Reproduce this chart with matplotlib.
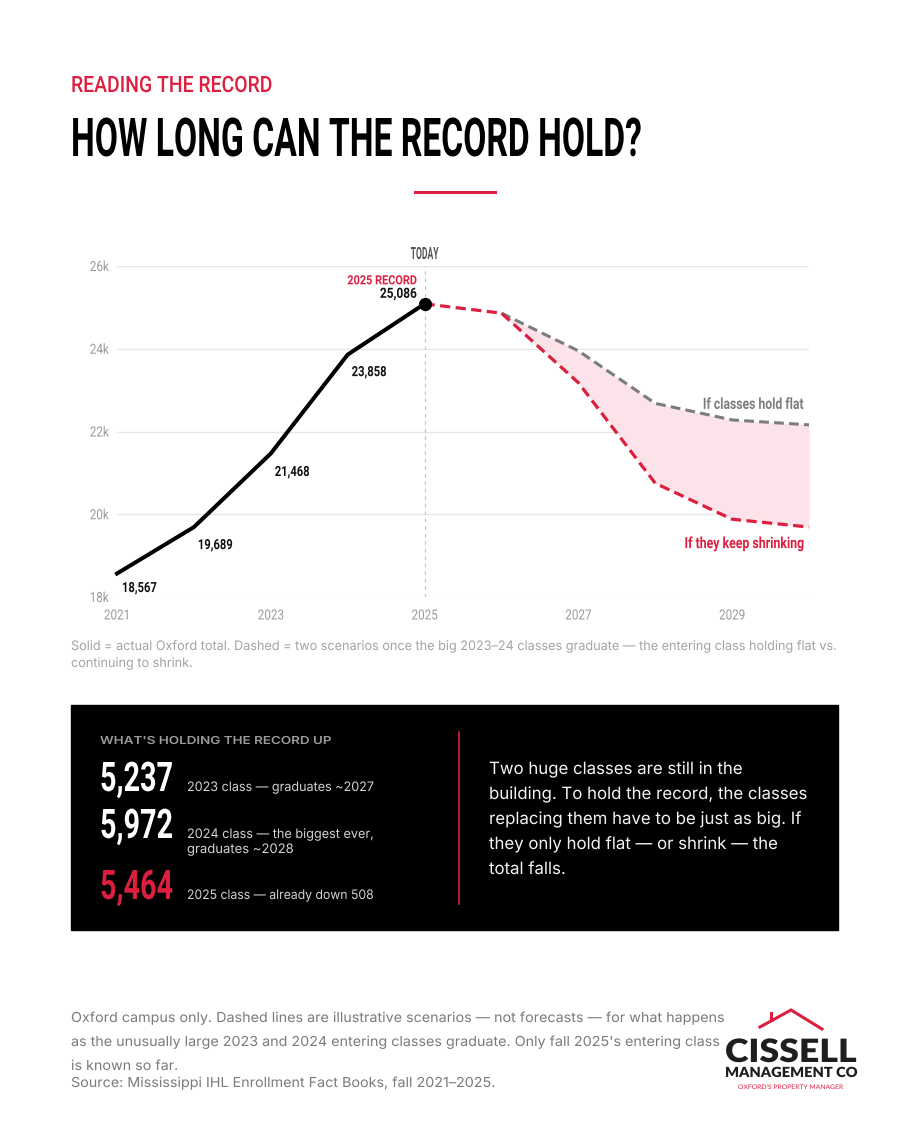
"""Oxford enrollment record chart — how long can the record hold."""
import matplotlib
matplotlib.use("Agg")
import matplotlib.pyplot as plt
from matplotlib.patches import Rectangle
from matplotlib.lines import Line2D
from matplotlib.patheffects import AbstractPathEffect
from matplotlib.transforms import Affine2D

W, H = 910, 1138
RED = "#dc1f3f"
GRAY_LINE = "#7c7c7c"
COND = ["Roboto", "DejaVu Sans"]
BODY = ["Inter", "DejaVu Sans"]
LOGO = ["Lato", "DejaVu Sans"]

# data
years = [2021, 2022, 2023, 2024, 2025]
actual = [18567, 19689, 21468, 23858, 25086]
scen_years = [2025, 2026, 2027, 2028, 2029, 2030]
hold_flat = [25086, 24860, 23950, 22680, 22280, 22160]
keep_shrinking = [25086, 24860, 23180, 20750, 19880, 19690]
y_ticks = [18000, 20000, 22000, 24000, 26000]
y_tick_labels = ["18k", "20k", "22k", "24k", "26k"]
x_ticks = [2021, 2023, 2025, 2027, 2029]

stat_values = ["5,237", "5,972", "5,464"]
stat_notes = [["2023 class — graduates ~2027"],
              ["2024 class — the biggest ever,", "graduates ~2028"],
              ["2025 class — already down 508"]]
stat_colors = ["white", "white", RED]

caption = ["Solid = actual Oxford total. Dashed = two scenarios once the big 2023–24 classes graduate — the entering class holding flat vs.",
           "continuing to shrink."]
box_text = ["Two huge classes are still in the",
            "building. To hold the record, the classes",
            "replacing them have to be just as big. If",
            "they only hold flat — or shrink — the",
            "total falls."]
footer = ["Oxford campus only. Dashed lines are illustrative scenarios — not forecasts — for what happens",
          "as the unusually large 2023 and 2024 entering classes graduate. Only fall 2025's entering class",
          "is known so far."]
source = "Source: Mississippi IHL Enrollment Fact Books, fall 2021–2025."


class Stretch(AbstractPathEffect):
    """Scale glyph outlines around the text anchor (fakes condensed/tall cuts)."""
    def __init__(self, sx=1.0, sy=1.0, pivot=0.0):
        super().__init__()
        self.sx, self.sy, self.pivot = sx, sy, pivot

    def draw_path(self, renderer, gc, tpath, affine, rgbFace=None):
        p = tpath.get_extents().x1 * self.pivot
        t = Affine2D().translate(-p, 0).scale(self.sx, self.sy).translate(p, 0) + affine
        renderer.draw_path(gc, tpath, t, rgbFace)


PIV = {"left": 0.0, "center": 0.5, "right": 1.0}

fig = plt.figure(figsize=(W / 100, H / 100), dpi=100)
fig.patch.set_facecolor("white")
rend = fig.canvas.get_renderer()


def fit(t, cap, ratio, width=None, size=None):
    """Set font size so the text is `width` px wide, then stretch it
    vertically so its capitals are `cap` px tall."""
    if size is None:
        t.set_fontsize(cap / ratio * 0.72)
        if width is not None:
            w0 = t.get_window_extent(rend).width
            t.set_fontsize(t.get_fontsize() * width / w0)
        size = t.get_fontsize()
    else:
        t.set_fontsize(size)
    sy = cap / (size / 0.72 * ratio)
    t.set_path_effects([Stretch(1.0, sy, PIV[t.get_ha()])])
    return size


def put(x, y, s, cap, color, family=COND, weight="bold", ha="left",
        width=None, size=None, ratio=0.711):
    t = fig.text(x / W, 1 - y / H, s, color=color, family=family,
                 weight=weight, ha=ha, va="baseline")
    return fit(t, cap, ratio, width, size)


def note(xy, s, off, cap, width, color="#111111", ha="left", weight="bold", **kw):
    t = ax.annotate(s, xy, xytext=off, textcoords="offset pixels", ha=ha,
                    va="baseline", family=COND, weight=weight, color=color, **kw)
    fit(t, cap, 0.711, width)


def hline(x0, x1, y, color, lw):
    fig.add_artist(Line2D([x0 / W, x1 / W], [1 - y / H, 1 - y / H], color=color, lw=lw))


# header
put(71, 92, "READING THE RECORD", 16, RED, weight="medium", width=201)
put(71, 156, "HOW LONG CAN THE RECORD HOLD?", 38, "black", width=570)
hline(415, 495, 192, RED, 2.2)

# chart
ax = fig.add_axes([117 / W, 1 - 597 / H, (809 - 117) / W, (597 - 266) / H])
ax.set_xlim(2021, 2030)
ax.set_ylim(18000, 26000)
for s in ax.spines.values():
    s.set_visible(False)
ax.set_yticks(y_ticks, y_tick_labels)
ax.set_xticks(x_ticks, [str(y) for y in x_ticks])
ax.tick_params(length=0, labelsize=8.4, labelcolor="#9a9a9a")
ax.tick_params(axis="x", pad=9)
ax.tick_params(axis="y", pad=6)
for lab in ax.get_yticklabels() + ax.get_xticklabels():
    lab.set_family(COND)
    lab.set_path_effects([Stretch(1.0, 1.2, PIV[lab.get_ha()])])
ax.grid(axis="y", color="#e6e6e6", lw=1)
ax.set_axisbelow(True)

ax.axvline(2025, color="#c8c8c8", lw=0.9, ls=(0, (3, 3)), zorder=1)
ax.fill_between(scen_years[1:], keep_shrinking[1:], hold_flat[1:],
                color="#fbe3e9", lw=0, zorder=2)
ax.plot(scen_years[1:], hold_flat[1:], color=GRAY_LINE, lw=2.2,
        ls=(0, (3.2, 1.7)), zorder=3, clip_on=False)
ax.plot(scen_years, keep_shrinking, color=RED, lw=2.3,
        ls=(0, (3.2, 1.7)), zorder=4, clip_on=False)
ax.plot(years, actual, color="black", lw=2.9, zorder=5, clip_on=False)
ax.plot(years[-1], actual[-1], "o", color="black", ms=8.5, zorder=6, clip_on=False)

offsets = [(5, -18.5), (4, -22), (4, -22.5), (4, -21.5)]
for yr, v, off in zip(years[:-1], actual[:-1], offsets):
    note((yr, v), f"{v:,}", off, 10, 35)

note((years[-1], actual[-1]), f"{actual[-1]:,}", (-8, 6), 10, 37, ha="right")
note((years[-1], actual[-1]), f"{years[-1]} RECORD", (-8, 19.5), 9, 69, color=RED, ha="right")
t = ax.annotate("TODAY", (years[-1], 1.0), xycoords=("data", "axes fraction"),
                xytext=(0, 7), textcoords="offset pixels", ha="center", va="baseline",
                family=COND, weight="bold", color="#555555")
fit(t, 12, 0.711, 28)
note((scen_years[-1], hold_flat[-1]), "If classes hold flat", (-6, 16), 11, 101,
     color=GRAY_LINE, ha="right")
note((scen_years[-1], keep_shrinking[-1]), "If they keep shrinking", (-6, -21), 11, 120,
     color=RED, ha="right")

# caption under chart
size = put(71, 650, caption[0], 9.5, "#a3a3a3", family=BODY, weight="normal",
           width=763, ratio=0.727)
put(71, 667, caption[1], 9.5, "#a3a3a3", family=BODY, weight="normal", size=size, ratio=0.727)

# black box
fig.add_artist(Rectangle((71 / W, 1 - 930 / H), (838 - 71) / W, (930 - 705) / H,
                         transform=fig.transFigure, color="black", zorder=0))
fig.add_artist(Line2D([459 / W, 459 / W], [1 - 732 / H, 1 - 904 / H], color=RED, lw=1.2))
put(100, 744, "WHAT'S HOLDING THE RECORD UP", 8, "#9a9a9a", family=BODY,
    weight="semibold", width=230, ratio=0.727)
value_base = [791, 838, 899]
note_base = [[791], [838, 853], [899]]
for val, col, vb, notes, nbs in zip(stat_values, stat_colors, value_base, stat_notes, note_base):
    put(100, vb, val, 29, col, width=73)
    for n, nb in zip(notes, nbs):
        put(187, nb, n, 9.5, "#d2d2d2", family=BODY, weight="normal",
            width=186 if n == notes[0] and len(n) > 25 else None, ratio=0.727)

size = put(489, 799, box_text[1], 12.3, "#f4f4f4", family=BODY, weight="normal",
           width=317, ratio=0.727)
for i, line in enumerate(box_text):
    if i != 1:
        put(489, 774 + 25 * i, line, 12.3, "#f4f4f4", family=BODY, weight="normal",
            size=size, ratio=0.727)

# footer
size = put(71, 1022, footer[0], 10, "#7a7a7a", family=BODY, weight="normal",
           width=651, ratio=0.727)
for i, line in enumerate(footer[1:], start=1):
    put(71, 1022 + 24 * i, line, 10, "#7a7a7a", family=BODY, weight="normal",
        size=size, ratio=0.727)
put(71, 1087, source, 10, "#7a7a7a", family=BODY, weight="normal", size=size, ratio=0.727)

# logo
roof = Line2D([760 / W, 791 / W, 822 / W], [1 - 1027 / H, 1 - 1010 / H, 1 - 1029 / H],
              color=RED, lw=2.2, solid_joinstyle="miter")
fig.add_artist(roof)
fig.add_artist(Line2D([771 / W, 771 / W], [1 - 1020 / H, 1 - 1013 / H], color=RED, lw=2.2))
put(725, 1062, "CISSELL", 23, "#1e1e1e", family=LOGO, weight="heavy", width=132, ratio=0.717)
put(725, 1077, "MANAGEMENT CO", 10, "#1e1e1e", family=LOGO, weight="heavy", width=132, ratio=0.717)
put(738, 1089, "OXFORD'S PROPERTY MANAGER", 4.5, RED, family=LOGO, weight="normal",
    width=105, ratio=0.717)

fig.savefig("out.png", dpi=100, facecolor="white")
